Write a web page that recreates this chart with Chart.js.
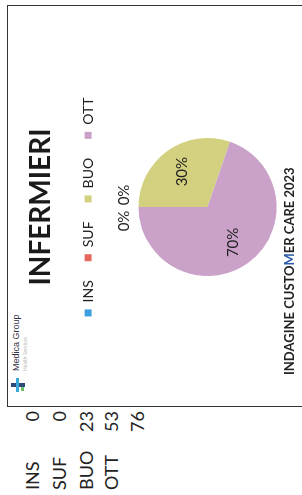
<!DOCTYPE html>
<html>
<head>
<meta charset="utf-8">
<script src="https://cdn.jsdelivr.net/npm/chart.js@4.4.1/dist/chart.umd.min.js"></script>
<style>
html, body { margin: 0; padding: 0; width: 302px; height: 495px; overflow: hidden; background: #fff; }
#page {
    position: absolute; left: 0; top: 495px; width: 495px; height: 302px;
    transform-origin: 0 0; transform: rotate(-90deg);
    font-family: Lato, sans-serif; color: #222;
}
#frame {
    position: absolute; left: 88px; top: 7px; width: 402px; height: 320px;
    border-top: 1.5px solid #333; border-left: 1.5px solid #333; border-right: 1.5px solid #333;
    box-sizing: border-box;
}
#chart { position: absolute; left: 89px; top: 8px; }
.row { position: absolute; left: 0; width: 86px; height: 20px; line-height: 20px; font-size: 18px; }
.row .lab { position: absolute; left: 5px; }
.row .val { position: absolute; right: 2px; }
#footer { position: absolute; left: 120px; top: 282px; font-size: 13px; font-weight: bold; line-height: 14px; white-space: nowrap; color: #222; }
#logo { position: absolute; left: 102px; top: 9px; }
#logo .icon { position: absolute; left: 0; top: 2px; width: 16px; height: 14px; }
#logo .name { position: absolute; left: 22px; top: 2px; font-size: 9px; line-height: 10px; white-space: nowrap; color: #334; font-family: "Liberation Sans", sans-serif; }
#logo .sub { position: absolute; left: 22px; top: 13px; font-size: 5px; line-height: 6px; white-space: nowrap; color: #bbb; }
</style>
</head>
<body>
<div id="page">
    <div id="frame"></div>
    <div id="table"></div>
    <div id="logo">
        <div class="icon">
            <div style="position:absolute;left:6px;top:0;width:4px;height:14px;background:#2b4a7a"></div>
            <div style="position:absolute;left:1px;top:5px;width:14px;height:3px;background:#3aa8d8"></div>
            <div style="position:absolute;left:2px;top:10px;width:4px;height:3px;background:#6cbf6c"></div>
        </div>
        <div class="name">Medica Group</div>
        <div class="sub">Health Services</div>
    </div>
    <canvas id="chart" width="400" height="320"></canvas>
    <div id="footer">INDAGINE CUSTO<span style="color:#2a5aa8">M</span>ER CARE 2023</div>
</div>
<script>
const title = 'INFERMIERI';
const categories = ['INS', 'SUF', 'BUO', 'OTT'];
const counts = [0, 0, 23, 53];
const colors = ['#3d9fe0', '#e4685c', '#d3d17f', '#c9a1c9'];

const total = counts.reduce((a, b) => a + b, 0);

// tabella dei valori a sinistra
const rowCenters = [32, 59, 86, 111, 137];
const table = document.getElementById('table');
categories.concat(['']).forEach((cat, i) => {
    const row = document.createElement('div');
    row.className = 'row';
    row.style.top = (rowCenters[i] - 10) + 'px';
    const v = i < counts.length ? counts[i] : total;
    row.innerHTML = '<span class="lab">' + cat + '</span><span class="val">' + v + '</span>';
    table.appendChild(row);
});

// etichette percentuali sulle fette
const pctLabels = {
    id: 'pctLabels',
    afterDatasetsDraw(chart) {
        const ctx = chart.ctx;
        const meta = chart.getDatasetMeta(0);
        ctx.save();
        ctx.font = '15px Lato';
        ctx.fillStyle = '#222';
        ctx.textAlign = 'center';
        ctx.textBaseline = 'middle';
        let zeroIdx = 0;
        meta.data.forEach((arc, i) => {
            const pct = Math.round(counts[i] / total * 100) + '%';
            const p = arc.getProps(['x', 'y', 'startAngle', 'endAngle', 'outerRadius'], true);
            let x, y;
            if (counts[i] === 0) {
                x = p.x + (zeroIdx - 0.5) * 26 - 1;
                y = p.y - p.outerRadius - 14;
                zeroIdx++;
            } else {
                const mid = (p.startAngle + p.endAngle) / 2;
                x = p.x + Math.cos(mid) * p.outerRadius * 0.63;
                y = p.y + Math.sin(mid) * p.outerRadius * 0.63;
            }
            ctx.fillText(pct, x, y);
        });
        ctx.restore();
    }
};

const ctx = document.getElementById('chart').getContext('2d');
new Chart(ctx, {
    type: 'pie',
    data: {
        labels: categories,
        datasets: [{
            data: counts,
            backgroundColor: colors,
            borderWidth: 0,
            radius: 69
        }]
    },
    options: {
        responsive: false,
        animation: false,
        devicePixelRatio: 1,
        layout: { padding: { top: 0, bottom: 18, left: 0, right: 2 } },
        plugins: {
            title: {
                display: true,
                text: title,
                color: '#1a1a1a',
                font: { family: 'Lato', size: 28, weight: 'bold' },
                padding: { top: 16, bottom: 4.5 }
            },
            legend: {
                position: 'top',
                labels: {
                    color: '#222',
                    boxWidth: 7,
                    boxHeight: 7,
                    padding: 19,
                    font: { family: 'Lato', size: 14 }
                }
            },
            tooltip: { enabled: false }
        }
    },
    plugins: [pctLabels]
});
</script>
</body>
</html>
